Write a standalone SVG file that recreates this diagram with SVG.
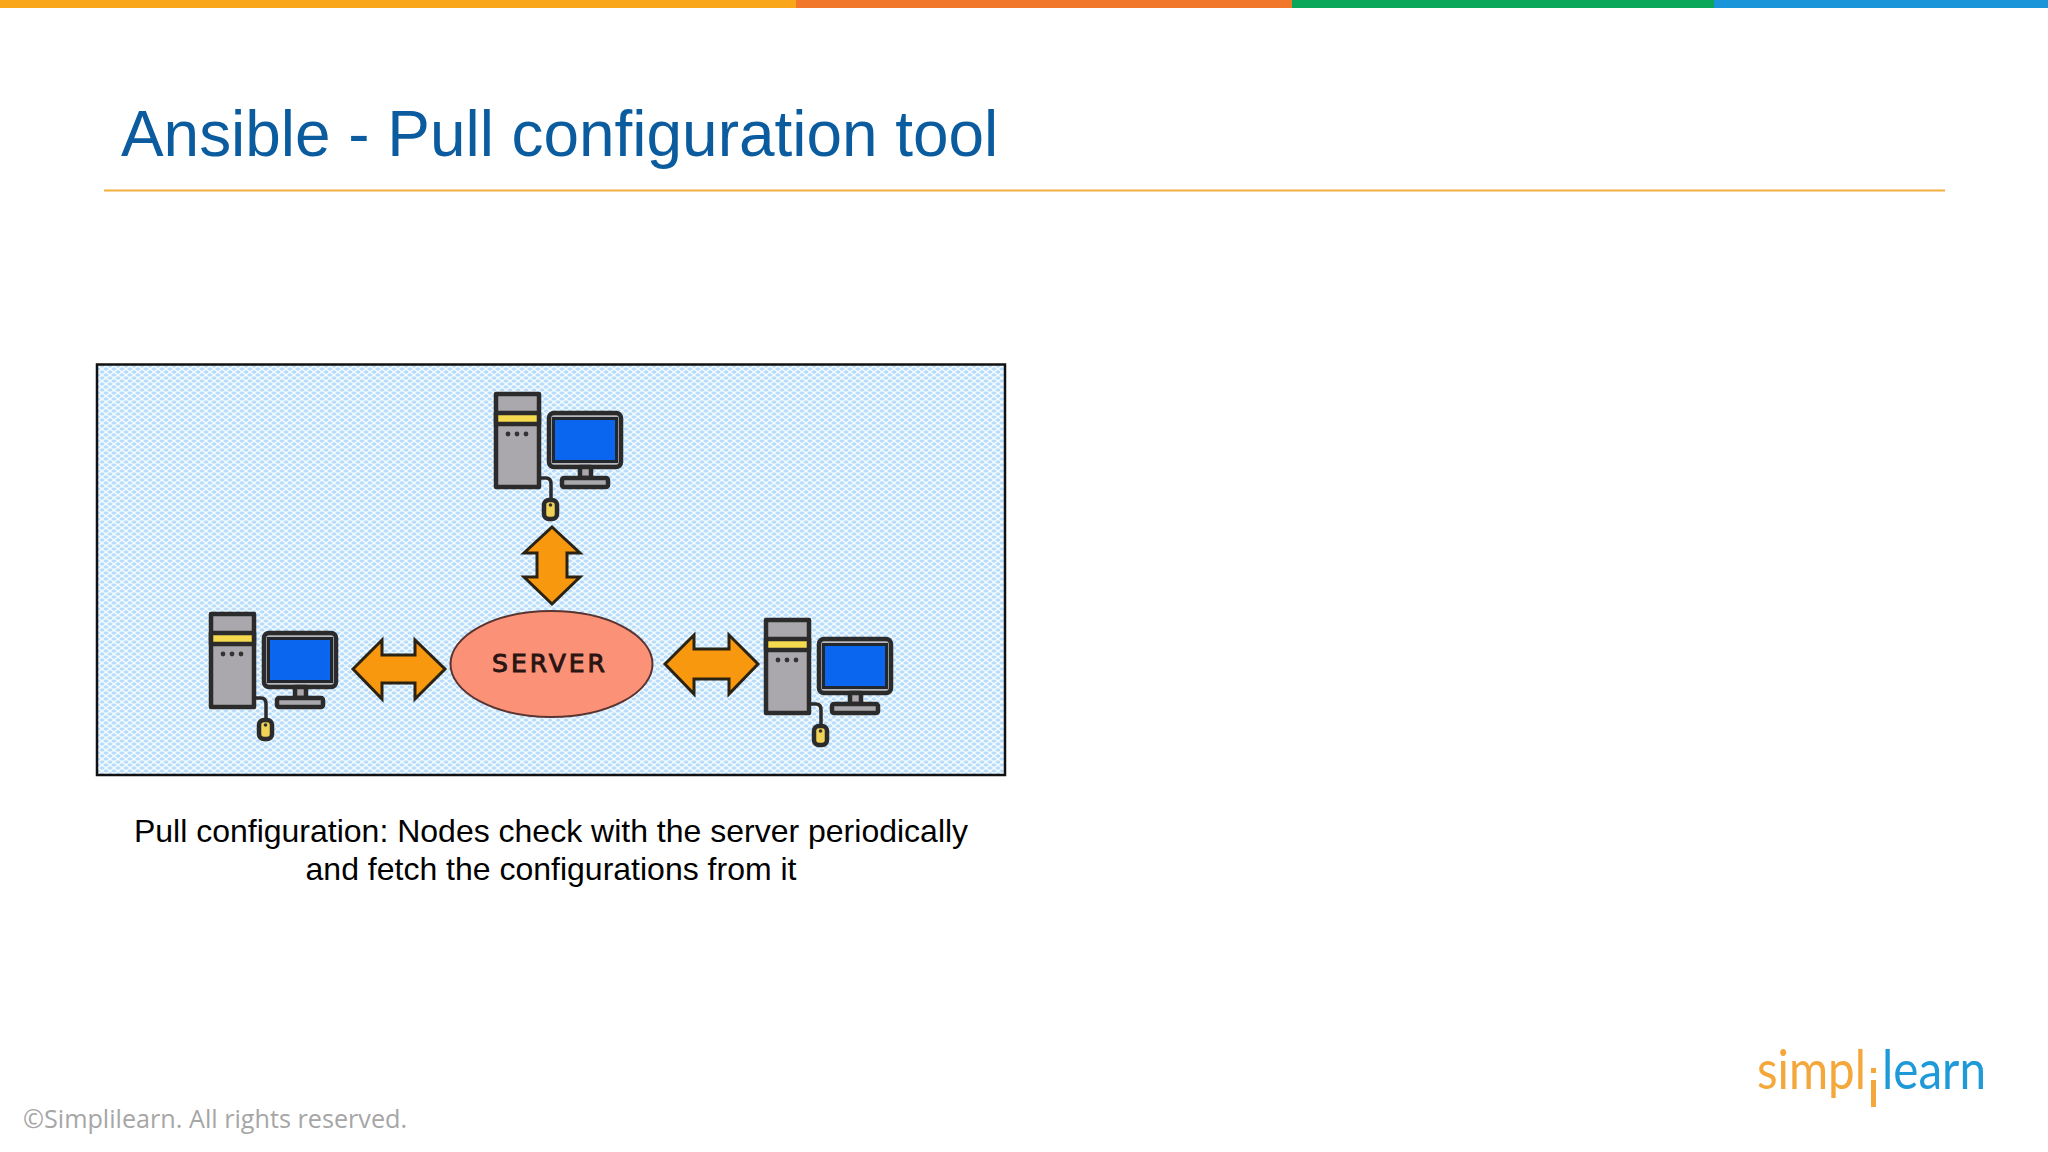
<svg xmlns="http://www.w3.org/2000/svg" xmlns:xlink="http://www.w3.org/1999/xlink" width="2048" height="1152" viewBox="0 0 2048 1152">
<style>
.title{font-family:"Liberation Sans",Arial,sans-serif;font-size:63.900px;fill:#0b5c9e}
.cap{font-family:"Liberation Sans",Arial,sans-serif;font-size:32px;fill:#000;text-anchor:middle}
.foot{font-family:"Open Sans",sans-serif;font-size:25.200px;fill:#a6a6a6}
.logo{font-family:"Lato",sans-serif;font-weight:400;font-size:54px}
.srv{font-family:"DejaVu Sans",sans-serif;font-size:25px;fill:#2a1512;stroke:#2a1512;stroke-width:1;text-anchor:middle;letter-spacing:3px}
.k{stroke:#2b2b2b;stroke-width:4.500;stroke-linejoin:round}
.g{fill:#aaa8ad}
.arrow{fill:#f7980f;stroke:#2a2213;stroke-width:3;stroke-linejoin:miter}
</style>
<defs>
<pattern id="dither" width="8" height="6" patternUnits="userSpaceOnUse">
<rect width="8" height="6" fill="#b9dcfa"/>
<path d="M0 1.5 Q2 -0.5 4 1.5 T8 1.5 M0 4.5 Q2 6.5 4 4.5 T8 4.5" fill="none" stroke="#f4fbff" stroke-width="1.400"/>
</pattern>
<g id="pc">
<rect class="k g" x="2" y="2" width="43" height="93"/>
<rect class="k" x="2" y="21" width="43" height="11" fill="#f5d94e"/>
<circle cx="14" cy="42" r="2.400" fill="#333"/><circle cx="23" cy="42" r="2.400" fill="#333"/><circle cx="32" cy="42" r="2.400" fill="#333"/>
<rect class="k" x="55" y="21" width="72" height="54" rx="5" fill="#b9b8bc"/>
<rect x="59.500" y="26.500" width="63" height="43" fill="#0a66ee" stroke="#23272e" stroke-width="3"/>
<rect class="k g" x="86" y="75" width="11" height="11"/>
<rect class="k g" x="68" y="86" width="46" height="9" rx="2"/>
<path d="M45 86 H52 Q57 86 57 92 V106" fill="none" stroke="#2b2b2b" stroke-width="3.500"/>
<rect class="k" x="50" y="108" width="13" height="19" rx="5" fill="#efd256"/>
<circle cx="56.500" cy="113" r="1.800" fill="#333"/>
</g>
</defs>

<g id="top-bar">
<rect x="0" y="0" width="796" height="8" fill="#f9a61a"/>
<rect x="796" y="0" width="496" height="8" fill="#f1772b"/>
<rect x="1292" y="0" width="422" height="8" fill="#0aa75a"/>
<rect x="1714" y="0" width="334" height="8" fill="#1a95d9"/>
</g>
<text id="title" class="title" x="121" y="156">Ansible - Pull configuration tool</text>
<rect id="rule" x="104" y="189.500" width="1841" height="2" fill="#f2ae3c"/>

<rect id="panel" x="97" y="364.500" width="908" height="410.500" fill="url(#dither)" stroke="#111" stroke-width="2.500"/>

<g id="connectors">
<path class="arrow" d="M552 527 L580 553 H567 V577 H580 L552 604 L524 577 H537 V553 H524 Z"/>
<path class="arrow" d="M353 669 L382 640 V655 H415 V640 L445 669 L415 699 V683 H382 V699 Z"/>
<path class="arrow" d="M665 664 L694 635 V649 H729 V635 L758 664 L729 694 V679 H694 V694 Z"/>
</g>

<g id="node-top"><use xlink:href="#pc" href="#pc" x="494" y="392"/></g>
<g id="node-left"><use xlink:href="#pc" href="#pc" x="209" y="612"/></g>
<g id="node-right"><use xlink:href="#pc" href="#pc" x="764" y="618"/></g>
<g id="node-server">
<ellipse cx="551.500" cy="664" rx="101" ry="53" fill="#fb9278" stroke="#5a3430" stroke-width="2"/>
<text class="srv" x="550" y="672">SERVER</text>
</g>

<g id="caption">
<text class="cap" x="551" y="842">Pull configuration: Nodes check with the server periodically</text>
<text class="cap" x="551" y="880">and fetch the configurations from it</text>
</g>
<text id="footer" class="foot" x="23" y="1128">©Simplilearn. All rights reserved.</text>
<g id="logo">
<text class="logo" x="1757" y="1089" fill="#f4a83c" textLength="109" lengthAdjust="spacingAndGlyphs">simpl</text>
<rect x="1871" y="1068" width="5" height="5" fill="#f4a83c"/>
<rect x="1871" y="1080" width="5" height="27" fill="#f4a83c"/>
<text class="logo" x="1882" y="1089" fill="#1f9ad8" textLength="104" lengthAdjust="spacingAndGlyphs">learn</text>
</g>
</svg>
